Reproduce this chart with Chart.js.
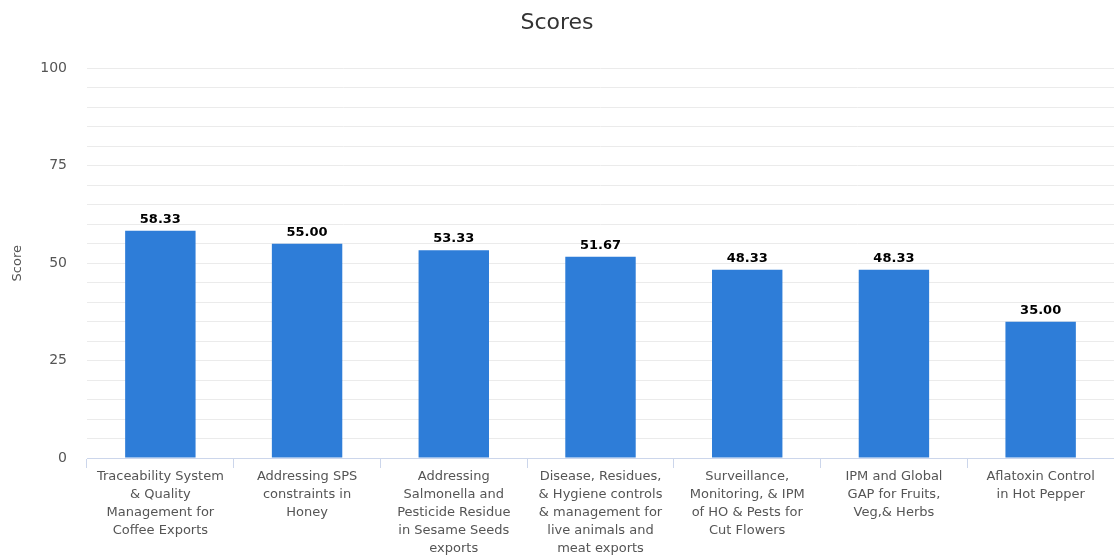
<!DOCTYPE html>
<html>
<head>
<meta charset="utf-8">
<script src="https://cdn.jsdelivr.net/npm/chart.js@4/dist/chart.umd.min.js"></script>
<style>
  html, body { margin: 0; padding: 0; background: #fff; }
  #wrap { width: 1114px; height: 558px; }
</style>
</head>
<body>
<div id="wrap"><canvas id="scores-chart"></canvas></div>
<script>
// Categories (multi-line, as wrapped in the original)
const categories = [
    ['Traceability System', '& Quality', 'Management for', 'Coffee Exports'],
    ['Addressing SPS', 'constraints in', 'Honey'],
    ['Addressing', 'Salmonella and', 'Pesticide Residue', 'in Sesame Seeds', 'exports'],
    ['Disease, Residues,', '& Hygiene controls', '& management for', 'live animals and', 'meat exports'],
    ['Surveillance,', 'Monitoring, & IPM', 'of HO & Pests for', 'Cut Flowers'],
    ['IPM and Global', 'GAP for Fruits,', 'Veg,& Herbs'],
    ['Aflatoxin Control', 'in Hot Pepper']
];

// Series values
const scores = [58.33, 55.00, 53.33, 51.67, 48.33, 48.33, 35.00];

// Y axis labelled ticks
const yTickLabels = [0, 25, 50, 75, 100];

const fontFamily = '"DejaVu Sans", "Open Sans", sans-serif';

// Draw value labels above each bar
const valueLabels = {
    id: 'valueLabels',
    afterDatasetsDraw(chart) {
        const ctx = chart.ctx;
        const meta = chart.getDatasetMeta(0);
        ctx.save();
        ctx.font = 'bold 13px ' + fontFamily;
        ctx.fillStyle = '#000';
        ctx.textAlign = 'center';
        ctx.textBaseline = 'bottom';
        meta.data.forEach(function(bar, i) {
            ctx.fillText(scores[i].toFixed(2), bar.x, bar.y - 5);
        });
        ctx.restore();
    }
};

const ctx = document.getElementById('scores-chart').getContext('2d');

new Chart(ctx, {
    type: 'bar',
    data: {
        labels: categories,
        datasets: [{
            label: 'Score',
            data: scores,
            backgroundColor: '#2e7dd8',
            borderWidth: 0,
            categoryPercentage: 1,
            barPercentage: 0.48
        }]
    },
    options: {
        responsive: true,
        maintainAspectRatio: false,
        animation: false,
        layout: {
            padding: { left: 0, right: 0, top: 10, bottom: 0 }
        },
        plugins: {
            legend: { display: false },
            tooltip: { enabled: false },
            title: {
                display: true,
                text: 'Scores',
                color: '#333',
                font: { family: fontFamily, size: 22, weight: 'normal' },
                padding: { top: 0, bottom: 32 }
            }
        },
        scales: {
            x: {
                grid: {
                    offset: true,
                    drawOnChartArea: false,
                    drawTicks: true,
                    tickLength: 10,
                    color: '#ccd6eb'
                },
                border: { color: '#ccd6eb' },
                ticks: {
                    color: '#555',
                    autoSkip: false,
                    maxRotation: 0,
                    padding: 0,
                    font: { family: fontFamily, size: 13, lineHeight: '18px' }
                }
            },
            y: {
                min: 0,
                max: 100,
                border: { display: false },
                grid: {
                    color: '#ebebeb',
                    drawTicks: false
                },
                afterFit: function(scale) {
                    scale.width = 87;
                },
                ticks: {
                    stepSize: 5,
                    autoSkip: false,
                    color: '#555',
                    padding: 20,
                    font: { family: fontFamily, size: 14 },
                    callback: function(value) {
                        return yTickLabels.indexOf(value) !== -1 ? value : '';
                    }
                },
                title: {
                    display: true,
                    text: 'Score',
                    color: '#555',
                    font: { family: fontFamily, size: 13 },
                    padding: { top: 10, bottom: 0 }
                }
            }
        }
    },
    plugins: [valueLabels]
});
</script>
</body>
</html>
